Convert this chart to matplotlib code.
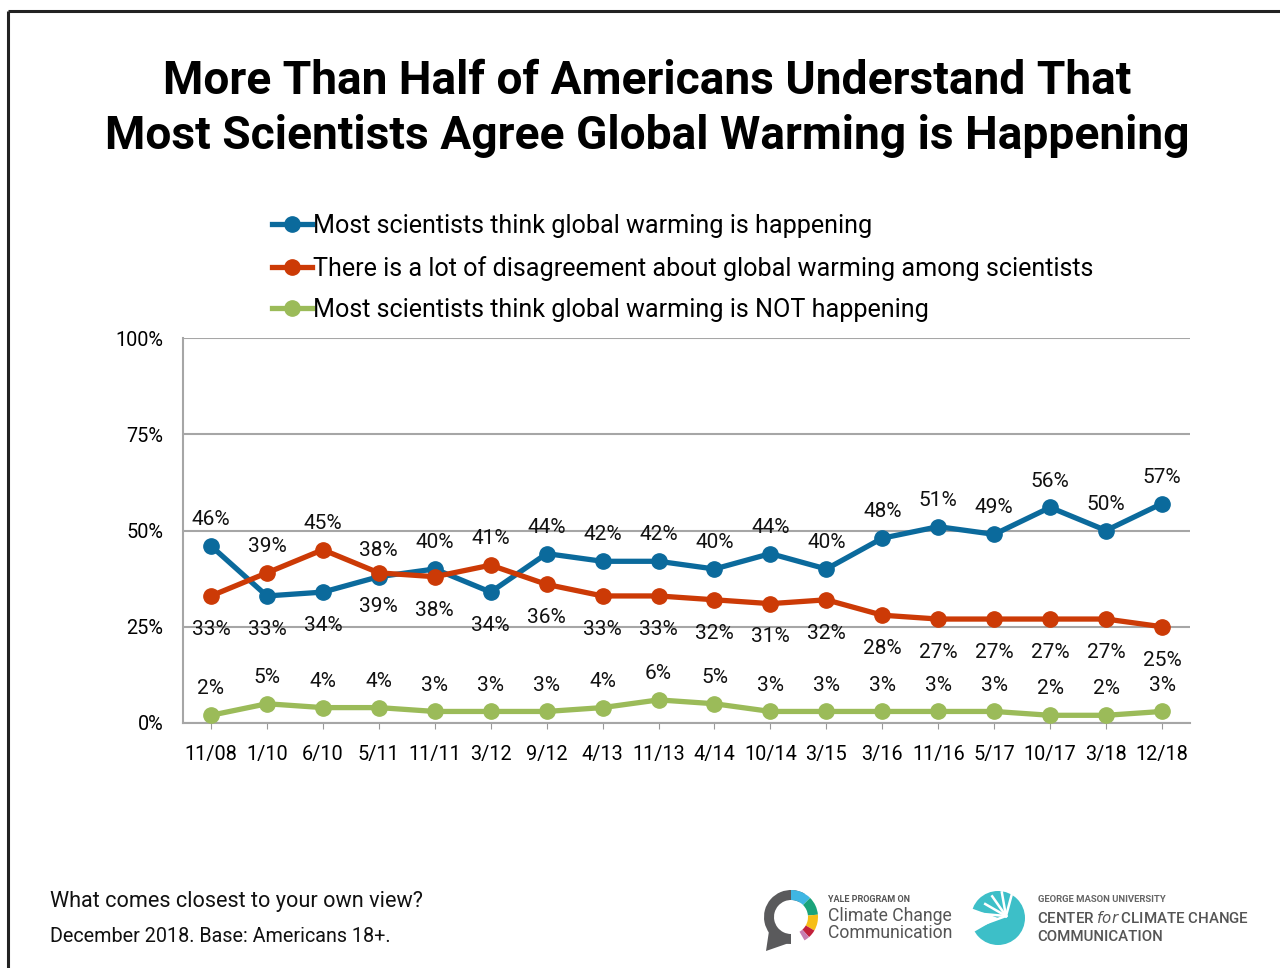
import matplotlib
matplotlib.use("Agg")
import math
import matplotlib.pyplot as plt
from matplotlib.patches import Wedge, Circle, Polygon

plt.rcParams['font.family'] = ['Roboto', 'DejaVu Sans']

categories = ["11/08", "1/10", "6/10", "5/11", "11/11", "3/12", "9/12", "4/13", "11/13",
              "4/14", "10/14", "3/15", "3/16", "11/16", "5/17", "10/17", "3/18", "12/18"]
happening = [46, 33, 34, 38, 40, 34, 44, 42, 42, 40, 44, 40, 48, 51, 49, 56, 50, 57]
disagreement = [33, 39, 45, 39, 38, 41, 36, 33, 33, 32, 31, 32, 28, 27, 27, 27, 27, 25]
not_happening = [2, 5, 4, 4, 3, 3, 3, 4, 6, 5, 3, 3, 3, 3, 3, 2, 2, 3]
series_names = ["Most scientists think global warming is happening",
                "There is a lot of disagreement about global warming among scientists",
                "Most scientists think global warming is NOT happening"]
y_ticks = [0, 25, 50, 75, 100]
y_tick_labels = ["0%", "25%", "50%", "75%", "100%"]

# label placement: +1 above, -1 below
place_blue = [1, -1, -1, 1, 1, -1, 1, 1, 1, 1, 1, 1, 1, 1, 1, 1, 1, 1]
place_red = [-1, 1, 1, -1, -1, 1, -1, -1, -1, -1, -1, -1, -1, -1, -1, -1, -1, -1]
place_green = [1] * 18

colors = ["#0B6A9C", "#CC3A06", "#9BBB59"]

W, H = 1280, 968
fig = plt.figure(figsize=(W / 100, H / 100), dpi=100)
fig.patch.set_facecolor("white")

ax = fig.add_axes([183 / W, 1 - 723 / H, (1190 - 183) / W, (723 - 338) / H])
x = list(range(len(categories)))
lines = []
for vals, col, name, place in [(happening, colors[0], series_names[0], place_blue),
                               (disagreement, colors[1], series_names[1], place_red),
                               (not_happening, colors[2], series_names[2], place_green)]:
    ln, = ax.plot(x, vals, color=col, lw=3.8, marker="o", markersize=11,
                  solid_joinstyle="round", label=name, zorder=3)
    lines.append(ln)
    for xi, v, p in zip(x, vals, place):
        off = 19 if p > 0 else -24
        ax.annotate(f"{v}%", (xi, v), xytext=(0, off), textcoords="offset points",
                    ha="center", va="center", fontsize=15, color="#111111")

ax.set_xlim(-0.5, len(categories) - 0.5)
ax.set_ylim(0, 100)
ax.set_yticks(y_ticks)
ax.set_yticklabels(y_tick_labels, fontsize=14.3)
ax.set_xticks(x)
ax.set_xticklabels(categories, fontsize=14.3)
ax.tick_params(axis="y", length=0, pad=14)
ax.tick_params(axis="x", length=4, color="#999999", pad=12, direction="out")
ax.grid(axis="y", color="#A6A6A6", lw=1.5, zorder=0)
for s in ["top", "right"]:
    ax.spines[s].set_visible(False)
for s in ["left", "bottom"]:
    ax.spines[s].set_color("#A6A6A6")
    ax.spines[s].set_linewidth(1.5)

leg = fig.legend(handles=lines, loc="upper left",
                 bbox_to_anchor=(272 / W, 1 - 214 / H), frameon=False,
                 fontsize=18.1, handlelength=1.6, handletextpad=0.05,
                 labelspacing=0.7, borderpad=0, borderaxespad=0)

# overlay in pixel coordinates
ov = fig.add_axes([0, 0, 1, 1], zorder=10)
ov.set_xlim(0, W)
ov.set_ylim(H, 0)
ov.axis("off")
ov.patch.set_alpha(0)

# frame
ov.plot([8, W], [11, 11], color="#222222", lw=2.2, solid_capstyle="butt")
ov.plot([8, 8], [11, H], color="#222222", lw=2.2, solid_capstyle="butt")

ov.text(647, 81, "More Than Half of Americans Understand That", ha="center", va="center",
        fontsize=33.2, fontweight="bold", color="black")
ov.text(647, 136, "Most Scientists Agree Global Warming is Happening", ha="center", va="center",
        fontsize=33.2, fontweight="bold", color="black")

ov.text(50, 901, "What comes closest to your own view?", ha="left", va="center",
        fontsize=15.6, color="#111111")
ov.text(50, 937, "December 2018. Base: Americans 18+.", ha="left", va="center",
        fontsize=14.2, color="#111111")

# Yale logo
cx, cy = 791, 917
ov.add_patch(Wedge((cx, cy), 27, 90, 300, width=10, facecolor="#5A5A5C", edgecolor="none"))
ov.add_patch(Polygon([[cx - 22, cy + 14], [cx - 25, cy + 34], [cx - 2, cy + 26]],
                     closed=True, facecolor="#5A5A5C", edgecolor="none"))
for a1, a2, c in [(45, 90, "#3FB6E3"), (5, 45, "#1AA37A"), (-30, 5, "#F6BE17"),
                  (-48, -30, "#C2203B"), (-60, -48, "#C77DB1")]:
    ov.add_patch(Wedge((cx, cy), 27, -a2, -a1, width=10, facecolor=c, edgecolor="none"))
ov.text(828, 900, "YALE PROGRAM ON", ha="left", va="center", fontsize=6.5,
        fontweight="bold", color="#555555")
ov.text(828, 916, "Climate Change", ha="left", va="center", fontsize=12.7, color="#555555")
ov.text(828, 933, "Communication", ha="left", va="center", fontsize=12.7, color="#555555")

# GMU logo
gx, gy = 998, 918
ov.add_patch(Circle((gx, gy), 27, facecolor="#3DBFC8", edgecolor="none"))
ov.add_patch(Wedge((gx, gy), 29, 150, 200, facecolor="white", edgecolor="none"))
for ang in [160, 185, 210, 235, 260, 285]:
    r = math.radians(ang)
    ov.plot([gx + 8, gx + 8 + 24 * math.cos(r)], [gy - 2, gy - 2 + 24 * math.sin(r)],
            color="white", lw=1.8)
ov.text(1038, 900, "GEORGE MASON UNIVERSITY", ha="left", va="center", fontsize=6.8,
        fontweight="bold", color="#666666")
ov.text(1037, 918, "CENTER $\\it{for}$ CLIMATE CHANGE", ha="left", va="center", fontsize=10.8,
        fontweight="medium", color="#555555")
ov.text(1037, 937, "COMMUNICATION", ha="left", va="center", fontsize=10.8,
        fontweight="medium", color="#555555")

fig.savefig("out.png", dpi=100)
